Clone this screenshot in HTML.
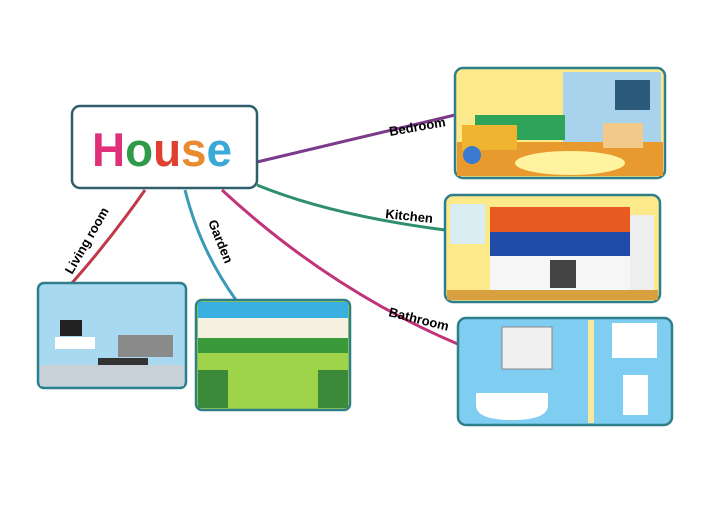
<!DOCTYPE html><html><head><meta charset="utf-8"><style>body{margin:0;background:#fff}svg{display:block}</style></head><body>
<svg width="720" height="509" viewBox="0 0 720 509" xmlns="http://www.w3.org/2000/svg" font-family="'Comic Sans MS','Liberation Sans',sans-serif">
<rect width="720" height="509" fill="#fff"/>
<path d="M257 162 Q350 140 455 115" stroke="#7b3a8a" stroke-width="3" fill="none"/>
<path d="M257 185 Q330 215 445 230" stroke="#2f8f6a" stroke-width="3" fill="none"/>
<path d="M222 190 Q330 290 460 345" stroke="#c2347a" stroke-width="3" fill="none"/>
<path d="M185 190 Q200 250 236 300" stroke="#3a9ab8" stroke-width="3" fill="none"/>
<path d="M145 190 Q110 240 72 283" stroke="#c0394a" stroke-width="3" fill="none"/>
<text x="390" y="136" font-size="13" font-weight="bold" transform="rotate(-10 390 136)">Bedroom</text>
<text x="385" y="218" font-size="13" font-weight="bold" transform="rotate(6 385 218)">Kitchen</text>
<text x="388" y="316" font-size="13" font-weight="bold" transform="rotate(14 388 316)">Bathroom</text>
<text x="208" y="222" font-size="13" font-weight="bold" transform="rotate(68 208 222)">Garden</text>
<text x="72" y="275" font-size="13" font-weight="bold" transform="rotate(-60 72 275)">Living room</text>
<rect x="72" y="106" width="185" height="82" rx="8" fill="#fff" stroke="#2f5f6a" stroke-width="2.5"/>
<text x="92" y="166" font-size="47" font-weight="bold" textLength="140" lengthAdjust="spacingAndGlyphs"><tspan fill="#e0307a">H</tspan><tspan fill="#2e9a4a">o</tspan><tspan fill="#e04030">u</tspan><tspan fill="#e88a30">s</tspan><tspan fill="#3aa8d8">e</tspan></text>
<g><rect x="455" y="68" width="210" height="110" rx="8" fill="#fbe98a" stroke="#2f7f8a" stroke-width="2.5"/>
<rect x="563" y="72" width="98" height="70" fill="#a9d3ec"/>
<rect x="615" y="80" width="35" height="30" fill="#2c5a7a"/>
<rect x="457" y="142" width="206" height="34" fill="#e89a2e"/>
<rect x="475" y="115" width="90" height="25" fill="#2ea35a"/>
<rect x="462" y="125" width="55" height="25" fill="#f0b530"/>
<rect x="603" y="123" width="40" height="25" fill="#f3c98a"/>
<ellipse cx="570" cy="163" rx="55" ry="12" fill="#fff3a0"/>
<circle cx="472" cy="155" r="9" fill="#3a7ad0"/></g>
<g><rect x="445" y="195" width="215" height="107" rx="8" fill="#fbe98a" stroke="#2f7f8a" stroke-width="2.5"/>
<rect x="450" y="204" width="35" height="40" fill="#d9eef2"/>
<rect x="490" y="207" width="140" height="25" fill="#e85a20"/>
<rect x="490" y="232" width="140" height="24" fill="#1f4aa8"/>
<rect x="490" y="256" width="140" height="34" fill="#f6f6f6"/>
<rect x="550" y="260" width="26" height="28" fill="#444"/>
<rect x="630" y="215" width="24" height="75" fill="#eee"/>
<rect x="447" y="290" width="211" height="10" fill="#d9a040"/></g>
<g><rect x="458" y="318" width="214" height="107" rx="8" fill="#7fcdf0" stroke="#2f7f8a" stroke-width="2.5"/>
<rect x="588" y="320" width="6" height="103" fill="#f5e9a0"/>
<rect x="502" y="327" width="50" height="42" fill="#f0f0f0" stroke="#888"/>
<rect x="612" y="323" width="45" height="35" fill="#fff"/>
<path d="M476 393 h72 v12 q0 15 -36 15 q-36 0 -36 -15z" fill="#fff"/>
<rect x="623" y="375" width="25" height="40" fill="#fff"/></g>
<g><rect x="38" y="283" width="148" height="105" rx="6" fill="#a9d9f0" stroke="#2f7f8a" stroke-width="2.5"/>
<rect x="60" y="320" width="22" height="16" fill="#222"/>
<rect x="55" y="337" width="40" height="12" fill="#fff"/>
<rect x="118" y="335" width="55" height="22" fill="#8a8a8a"/>
<rect x="98" y="358" width="50" height="18" fill="#333"/>
<rect x="40" y="365" width="144" height="21" fill="#c8d0d8"/></g>
<g><rect x="196" y="300" width="154" height="110" rx="6" fill="#9fd44a" stroke="#2f7f8a" stroke-width="2.5"/>
<rect x="198" y="302" width="150" height="18" fill="#3ab0e0"/>
<rect x="198" y="318" width="150" height="20" fill="#f5f0e0"/>
<rect x="198" y="338" width="150" height="15" fill="#3a9a3a"/>
<rect x="198" y="370" width="30" height="38" fill="#3a8a3a"/>
<rect x="318" y="370" width="30" height="38" fill="#3a8a3a"/></g>
</svg></body></html>
